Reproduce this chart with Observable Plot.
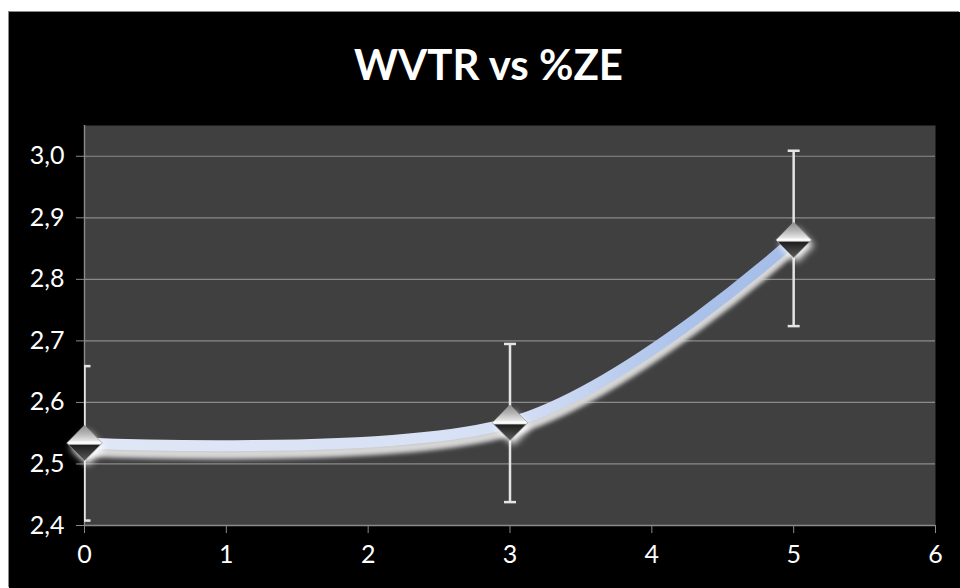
<!DOCTYPE html>
<html>
<head>
<meta charset="utf-8">
<script src="https://cdn.jsdelivr.net/npm/d3@7"></script>
<script src="https://cdn.jsdelivr.net/npm/@observablehq/plot@0.6"></script>
<style>
  html, body { margin: 0; padding: 0; background: white; width: 960px; height: 588px; overflow: hidden; }
  #card { position: absolute; left: 9px; top: 12px; width: 951px; height: 576px; background: black; box-shadow: -1px -1px 0 #8a8a8a; }
  #title { position: absolute; left: 0; top: 0; width: 951px; height: 88px; box-sizing: border-box; padding-top: 31px; text-align: center; color: white; font-family: Lato, "Open Sans", sans-serif; font-weight: 700; font-size: 42px; line-height: 1; padding-left: 8px; }
  #chart { position: absolute; left: 0; top: 88px; }
</style>
</head>
<body>
<div id="card">
  <div id="title">WVTR vs %ZE</div>
  <div id="chart"></div>
</div>
<script>
const zePercent = [0, 3, 5];
const wvtr = [2.534, 2.567, 2.864];
const errLow = [2.408, 2.438, 2.724];
const errHigh = [2.659, 2.695, 3.009];
const xTicks = [0, 1, 2, 3, 4, 5, 6];
const yTicks = [2.4, 2.5, 2.6, 2.7, 2.8, 2.9, 3.0];

const data = zePercent.map((x, i) => ({x, y: wvtr[i], lo: errLow[i], hi: errHigh[i]}));

const capSymbol = {
  draw(ctx, size) {
    const w = Math.sqrt(size / Math.PI);
    ctx.moveTo(-w, 0);
    ctx.lineTo(w, 0);
  }
};

const fmt = d => d.toFixed(1).replace(".", ",");
const gridColor = "#8a8a8a";
const barColor = "#e4e4e4";
const GLOW_LINE = "#d6d6d6";
const MAIN_LINE = "#dde5f5";
const GLOW_DOT = "#fdfdfd";
const MAIN_DOT = "#c1c1c1";

const chart = Plot.plot({
  width: 951,
  height: 488,
  marginLeft: 75,
  marginRight: 25,
  marginTop: 25,
  marginBottom: 63,
  style: {background: "black", color: "white", fontFamily: "Lato, 'Open Sans', sans-serif", overflow: "visible"},
  x: {domain: [0, 6]},
  y: {domain: [2.4, 3.05]},
  marks: [
    Plot.frame({fill: "#404040"}),
    Plot.gridY({ticks: yTicks, stroke: gridColor, strokeOpacity: 1, strokeWidth: 1.2}),
    Plot.ruleX([0], {stroke: gridColor, strokeWidth: 1.4}),
    Plot.ruleY([2.4], {stroke: gridColor, strokeWidth: 1.4}),
    Plot.axisY({ticks: yTicks, tickFormat: fmt, tickSize: 8, tickPadding: 12, fontSize: 25, stroke: gridColor, fill: "white", label: null}),
    Plot.axisX({ticks: xTicks, tickFormat: d => String(d), tickSize: 8, tickPadding: 12, fontSize: 25, stroke: gridColor, fill: "white", label: null}),
    Plot.ruleX(data, {x: "x", y1: "lo", y2: "hi", stroke: barColor, strokeWidth: 2.5, clip: "frame"}),
    Plot.dot(data, {x: "x", y: "lo", symbol: capSymbol, r: 6, stroke: barColor, strokeWidth: 2.5, fill: "none", clip: "frame"}),
    Plot.dot(data, {x: "x", y: "hi", symbol: capSymbol, r: 6, stroke: barColor, strokeWidth: 2.5, fill: "none", clip: "frame"}),
    Plot.line(data, {x: "x", y: "y", curve: "cardinal", stroke: GLOW_LINE, strokeWidth: 11, dy: 8}),
    Plot.line(data, {x: "x", y: "y", curve: "cardinal", stroke: MAIN_LINE, strokeWidth: 11}),
    Plot.dot(data, {x: "x", y: "y", symbol: "diamond2", r: 15.5, fill: GLOW_DOT, dx: 3, dy: 5}),
    Plot.dot(data, {x: "x", y: "y", symbol: "diamond2", r: 16, fill: MAIN_DOT, stroke: "#9a9a9a", strokeWidth: 0.8})
  ]
});

const ns = "http://www.w3.org/2000/svg";
const defs = document.createElementNS(ns, "defs");
defs.innerHTML = `
  <linearGradient id="lineGrad" x1="0" y1="0" x2="1" y2="0">
    <stop offset="0" stop-color="#e0e7f6"/>
    <stop offset="0.6" stop-color="#d6e0f5"/>
    <stop offset="0.85" stop-color="#abc2ea"/>
    <stop offset="1" stop-color="#a4bde8"/>
  </linearGradient>
  <linearGradient id="diaGrad" x1="0" y1="0" x2="0" y2="1">
    <stop offset="0" stop-color="#8a8a8a"/>
    <stop offset="0.25" stop-color="#b8b8b8"/>
    <stop offset="0.44" stop-color="#e6e6e6"/>
    <stop offset="0.48" stop-color="#ffffff"/>
    <stop offset="0.53" stop-color="#efefef"/>
    <stop offset="0.56" stop-color="#1e1e1e"/>
    <stop offset="0.66" stop-color="#2c2c2c"/>
    <stop offset="1" stop-color="#5c5c5c"/>
  </linearGradient>
  <filter id="blurLine" x="-10%" y="-50%" width="120%" height="200%">
    <feGaussianBlur stdDeviation="2.2"/>
  </filter>
  <filter id="blurDot" x="-60%" y="-60%" width="220%" height="220%">
    <feGaussianBlur stdDeviation="3.5"/>
  </filter>`;
chart.insertBefore(defs, chart.firstChild);

const norm = c => (c || "").toLowerCase();
for (const el of chart.querySelectorAll("g, path")) {
  const s = norm(el.getAttribute("stroke"));
  const f = norm(el.getAttribute("fill"));
  if (s === GLOW_LINE) el.setAttribute("filter", "url(#blurLine)");
  if (s === MAIN_LINE) el.setAttribute("stroke", "url(#lineGrad)");
  if (f === GLOW_DOT) el.setAttribute("filter", "url(#blurDot)");
  if (f === MAIN_DOT) el.setAttribute("fill", "url(#diaGrad)");
}

document.getElementById("chart").appendChild(chart);
</script>
</body>
</html>
